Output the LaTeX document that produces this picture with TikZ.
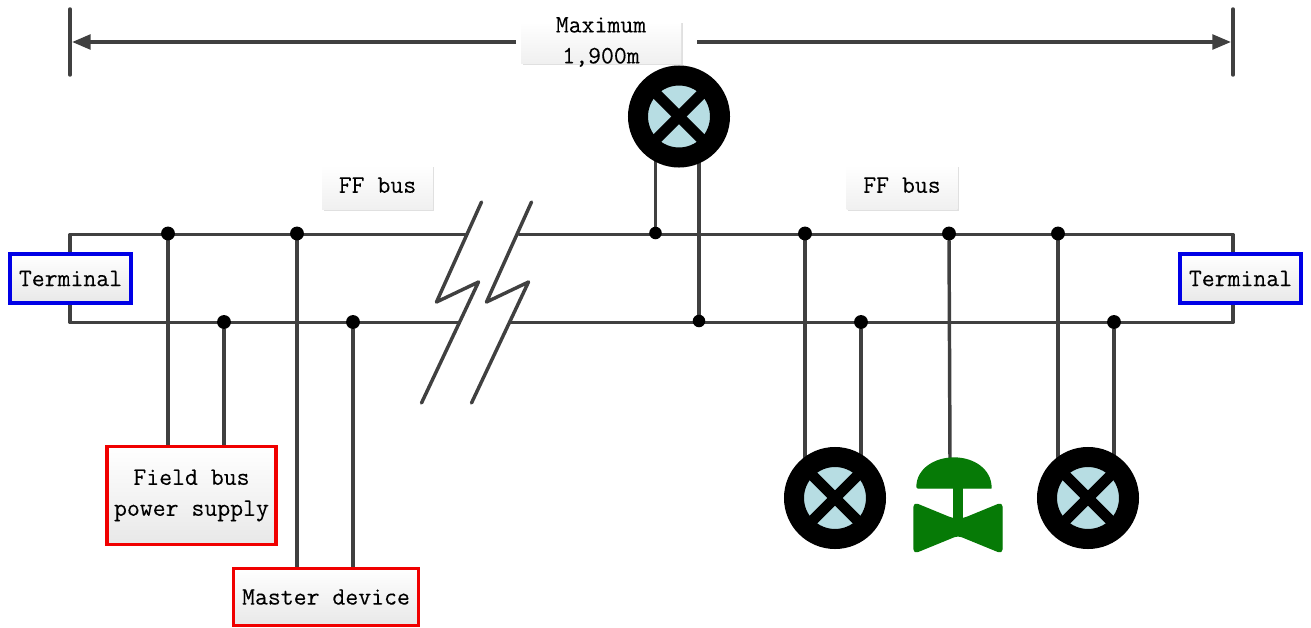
\documentclass[tikz,border=0pt]{standalone}
\usepackage{fontspec}
\setmonofont{Latin Modern Mono}[FakeBold=0.15]
\usetikzlibrary{arrows.meta,shadows,backgrounds}
\definecolor{busgray}{HTML}{404040}
\definecolor{inlight}{HTML}{B7DDE3}
\definecolor{valvegreen}{HTML}{067A06}
\definecolor{boxred}{HTML}{F00000}
\definecolor{boxblue}{HTML}{0000E6}
\tikzset{
  x=0.75pt,y=-0.75pt,
  txt/.style={font=\ttfamily\fontsize{18.8}{23.2}\selectfont,text=black,align=center,inner sep=0pt},
  softshadow/.style={general shadow={shadow xshift=1.2pt,shadow yshift=-1.2pt,fill=black,opacity=.12}},
  framebox/.style={txt,rectangle,line width=2.6pt,top color=white,bottom color=black!9,softshadow},
  termbox/.style={framebox,draw=boxblue,minimum width=90.75pt,minimum height=36.75pt},
  redbox/.style={framebox,draw=boxred},
  labelbox/.style={txt,rectangle,top color=white,bottom color=black!6,softshadow},
  bus/.style={draw=busgray,line width=2.6pt,line cap=round,line join=round},
  dot/.style={circle,fill=black,inner sep=0pt,minimum size=10.4pt},
  smalldot/.style={circle,fill=black,inner sep=0pt,minimum size=9.4pt},
  instr/.style={circle,draw=black,fill=inlight,line width=15pt,inner sep=0pt,minimum size=61.5pt,
    path picture={
      \draw[black,line width=8pt] (path picture bounding box.north west) -- (path picture bounding box.south east);
      \draw[black,line width=8pt] (path picture bounding box.north east) -- (path picture bounding box.south west);
    }},
  valvefill/.style={fill=valvegreen,draw=valvegreen,line width=1pt,line join=round},
  dim/.style={draw=busgray,line width=2.6pt},
  dimarrow/.style={dim,-{Triangle[length=14pt,width=11pt]}},
}
\begin{document}
\begin{tikzpicture}
\useasboundingbox (0,0) rectangle (1311,628);

% instruments and boxes
\node[instr] (inA) at (679,116.5) {};
\node[instr] (inB) at (835,498) {};
\node[instr] (inC) at (1088,498) {};

\node[termbox] (termL) at (70.5,278.5) {Terminal};
\node[termbox] (termR) at (1240.5,278.5) {Terminal};
\node[redbox,minimum width=126.75pt,minimum height=73.5pt] (power) at (191.5,495.5) {Field bus\\power supply};
\node[redbox,minimum width=138.75pt,minimum height=42.75pt] (master) at (326,597) {Master device};

% valve
\coordinate (valve) at (950,460);
\fill[valvefill] (917,487) .. controls (917,469) and (935,458) .. (954,458)
  .. controls (973,458) and (991,469) .. (991,488) -- (918,488) -- cycle;
\fill[valvefill] (953.5,488) rectangle (962.5,525);
\fill[valvefill,rounded corners=3pt] (914,503) -- (953,519) -- (963,519) -- (1002,503) -- (1002,553) -- (958,535) -- (914,553) -- cycle;

% junction dots
\foreach \n/\x in {ta/168,tb/297,td/805,te/949,tf/1058}
  \node[dot] (\n) at (\x,233.5) {};
\node[smalldot] (tc) at (655.5,233) {};
\foreach \n/\x in {ba/224,bb/353,bd/861,be/1114}
  \node[dot] (\n) at (\x,322) {};
\node[smalldot] (bc) at (699,321) {};

% free ends of the bus
\coordinate (TL) at (70,234.5);
\coordinate (BL) at (70,322.5);
\coordinate (TR) at (1233,234.5);
\coordinate (BR) at (1233,322.5);
\coordinate (tbrkL) at (467,234.5);
\coordinate (tbrkR) at (519,234.5);
\coordinate (bbrkL) at (459,322.5);
\coordinate (bbrkR) at (511,322.5);

\begin{scope}[on background layer]
  \draw[bus] (tbrkL) -- (TL) -- (BL) -- (bbrkL);
  \draw[bus] (tbrkR) -- (TR) -- (BR) -- (bbrkR);
  \draw[bus] (ta) -- (ta |- power.north);
  \draw[bus] (ba) -- (ba |- power.north);
  \draw[bus] (tb) -- (tb |- master.north);
  \draw[bus] (bb) -- (bb |- master.north);
  \draw[bus] (tc) -- (tc |- inA.center);
  \draw[bus] (bc) -- (bc |- inA.center);
  \draw[bus] (td) -- (td |- inB.center);
  \draw[bus] (bd) -- (bd |- inB.center);
  \draw[bus] (te) -- (valve);
  \draw[bus] (tf) -- (tf |- inC.center);
  \draw[bus] (be) -- (be |- inC.center);
\end{scope}

% break marks
\coordinate (la) at (481.5,202);
\coordinate (lb) at (436.5,302);
\coordinate (lc) at (478.5,282);
\coordinate (ld) at (421.5,403);
\coordinate (ra) at (531.5,202);
\coordinate (rb) at (486.5,302);
\coordinate (rc) at (528.5,282);
\coordinate (rd) at (471.5,403);
\draw[bus] (la) -- (lb) -- (lc) -- (ld);
\draw[bus] (ra) -- (rb) -- (rc) -- (rd);

% labels
\node[labelbox,minimum width=120pt,minimum height=31pt] (maxbox) at (601,42.5) {};
\node[txt] (maxtext) at (601,42) {Maximum\\1,900m};
\node[labelbox,minimum width=83pt,minimum height=33.5pt] (ffa) at (377.5,187.5) {\raisebox{3.6pt}{FF bus}};
\node[labelbox,minimum width=83pt,minimum height=33.5pt] (ffb) at (902,187.5) {\raisebox{3.6pt}{FF bus}};

% dimension
\coordinate (dimLt) at (70,9);
\coordinate (dimLb) at (70,75);
\coordinate (dimRt) at (1233,9);
\coordinate (dimRb) at (1233,75);
\coordinate (dimL) at (72,42);
\coordinate (dimR) at (1231,42);
\coordinate (dimLe) at (516,42);
\coordinate (dimRe) at (697,42);
\draw[dim,line cap=round] (dimLt) -- (dimLb);
\draw[dim,line cap=round] (dimRt) -- (dimRb);
\draw[dimarrow] (dimLe) -- (dimL);
\draw[dimarrow] (dimRe) -- (dimR);
\end{tikzpicture}
\end{document}
